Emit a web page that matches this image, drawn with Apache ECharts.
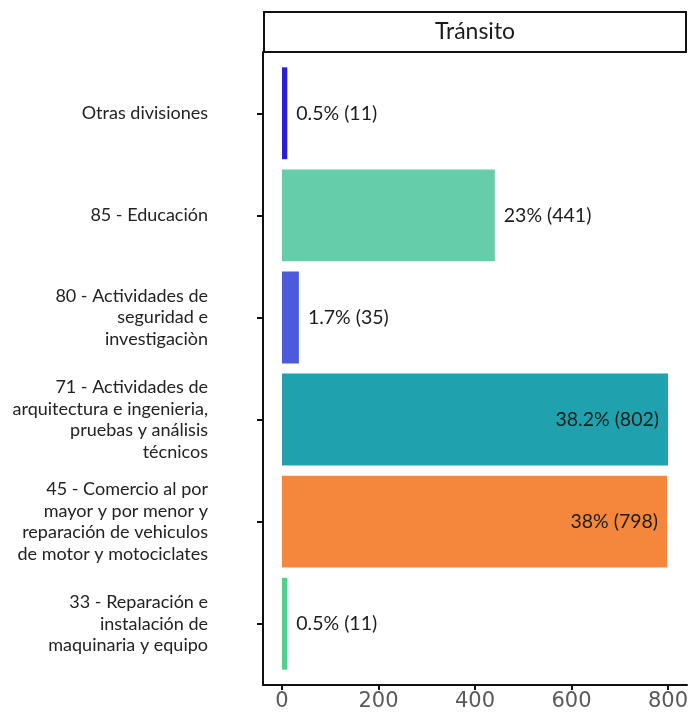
<!DOCTYPE html>
<html>
<head>
<meta charset="utf-8">
<script src="https://cdn.jsdelivr.net/npm/echarts@6/dist/echarts.min.js"></script>
<style>
  html, body { margin: 0; padding: 0; background: #fff; }
  #chart { width: 694px; height: 719px; }
</style>
</head>
<body>
<div id="chart"></div>
<script>
// Workers in the "Tránsito" group by economic division (top to bottom)
const categories = [
  'Otras divisiones',
  '85 - Educación',
  '80 - Actividades de\nseguridad e\ninvestigaciòn',
  '71 - Actividades de\narquitectura e ingenieria,\npruebas y análisis\ntécnicos',
  '45 - Comercio al por\nmayor y por menor y\nreparación de vehiculos\nde motor y motociclates',
  '33 - Reparación e\ninstalación de\nmaquinaria y equipo'
];
const counts = [11, 441, 35, 802, 798, 11];
const shares = ['0.5%', '23%', '1.7%', '38.2%', '38%', '0.5%'];
const barColors = ['#2b1fd2', '#66cdaa', '#4a5cd9', '#1fa2ae', '#f4873b', '#50d08a'];
const xTicks = [0, 200, 400, 600, 800];
const panelTitle = 'Tránsito';

// Long bars carry their label inside, short ones beside the bar end
const insideLimit = 600;

const seriesData = counts.map((v, i) => ({
  value: v,
  itemStyle: { color: barColors[i] },
  label: {
    position: v > insideLimit ? 'insideRight' : 'right',
    distance: 9,
    formatter: shares[i] + ' (' + v + ')'
  }
}));

const chart = echarts.init(document.getElementById('chart'));
const ink = '#111';
const fontFamily = 'Lato, "Noto Sans", sans-serif';

// panel edges and the padded band the categories occupy
const panel = { left: 263, right: 7, top: 52, bottom: 34 };
const inner = { top: 62.24, bottom: 44.24 };

const hiddenAxis = {
  axisLine: { show: false }, axisTick: { show: false },
  axisLabel: { show: false }, splitLine: { show: false }
};

chart.setOption({
  backgroundColor: '#fff',
  animation: false,
  grid: [
    // full panel (axis lines)
    { left: panel.left, right: panel.right, top: panel.top, bottom: panel.bottom },
    // plotting area for the bars
    { left: 282, right: 26, top: inner.top, bottom: inner.bottom },
    // category labels and ticks sitting on the panel's left edge
    { left: panel.left, right: panel.right, top: inner.top, bottom: inner.bottom }
  ],
  xAxis: [
    Object.assign({ gridIndex: 0, type: 'value', min: 0, max: 1 }, hiddenAxis,
      { axisLine: { show: true, lineStyle: { color: ink, width: 2 } } }),
    {
      gridIndex: 1, type: 'value', min: xTicks[0], max: xTicks[xTicks.length - 1],
      interval: xTicks[1] - xTicks[0], offset: 10.24,
      axisLine: { show: false },
      axisTick: { show: true, length: 5, lineStyle: { color: ink, width: 2 } },
      axisLabel: { color: '#5a5a5a', fontSize: 21, fontFamily: '"DejaVu Sans", sans-serif', margin: 6 },
      splitLine: { show: false }
    },
    Object.assign({ gridIndex: 2, type: 'value', min: 0, max: 1 }, hiddenAxis)
  ],
  yAxis: [
    Object.assign({ gridIndex: 0, type: 'value', min: 0, max: 1 }, hiddenAxis,
      { axisLine: { show: true, lineStyle: { color: ink, width: 2 } } }),
    Object.assign({ gridIndex: 1, type: 'category', data: categories, inverse: true }, hiddenAxis),
    {
      gridIndex: 2, type: 'category', data: categories, inverse: true,
      axisLine: { show: false },
      axisTick: { show: true, alignWithLabel: true, length: 6, lineStyle: { color: ink, width: 2 } },
      axisLabel: {
        color: '#222', fontSize: 18, fontFamily: fontFamily, margin: 55,
        align: 'right', lineHeight: 21.5
      }
    }
  ],
  series: [{
    type: 'bar',
    xAxisIndex: 1, yAxisIndex: 1,
    data: seriesData,
    barWidth: '90%',
    label: { show: true, color: '#1c1c1c', fontSize: 19.5, fontFamily: fontFamily }
  }],
  graphic: [{
    type: 'group',
    children: [
      {
        type: 'rect',
        shape: { x: 264, y: 12, width: 422, height: 40 },
        style: { fill: '#fff', stroke: ink, lineWidth: 2 }
      },
      {
        type: 'text',
        x: 475, y: 32,
        style: {
          text: panelTitle, fill: '#1c1c1c', fontSize: 23, fontFamily: fontFamily,
          align: 'center', verticalAlign: 'middle'
        }
      }
    ]
  }]
});
</script>
</body>
</html>
